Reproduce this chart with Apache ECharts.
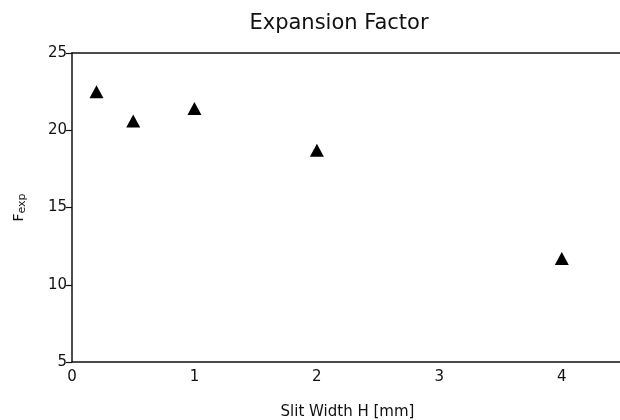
<!DOCTYPE html>
<html>
<head>
<meta charset="utf-8">
<script src="https://cdn.jsdelivr.net/npm/echarts@6/dist/echarts.min.js"></script>
<style>
  html, body { margin: 0; padding: 0; background: #fff; }
  #chart { width: 620px; height: 420px; }
</style>
</head>
<body>
<div id="chart"></div>
<script>
// slit width H [mm] and measured expansion factor
var slitWidth = [0.2, 0.5, 1.0, 2.0, 4.0];
var fExp = [22.5, 20.6, 21.4, 18.7, 11.7];
var xTicks = [0, 1, 2, 3, 4];
var yTicks = [5, 10, 15, 20, 25];

var points = slitWidth.map(function (x, i) { return [x, fExp[i]]; });
var font = 'DejaVu Sans';
var ink = '#111';

var myChart = echarts.init(document.getElementById('chart'));
var option = {
    backgroundColor: '#fff',
    animation: false,
    title: {
        text: 'Expansion Factor',
        left: 334,
        textAlign: 'center',
        top: 8,
        textStyle: { fontFamily: font, fontSize: 21, fontWeight: 'normal', color: ink }
    },
    grid: {
        left: 72,
        top: 53,
        width: 551,
        height: 309,
        outerBoundsMode: 'none',
        containLabel: false
    },
    xAxis: [{
        type: 'value',
        min: 0,
        max: 4.5,
        interval: 1,
        name: 'Slit Width H [mm]',
        nameLocation: 'middle',
        nameGap: 43,
        nameTextStyle: { fontFamily: font, fontSize: 15, color: ink },
        axisLine: { show: true, lineStyle: { color: ink, width: 1.5 } },
        axisTick: { show: false },
        axisLabel: {
            fontFamily: font, fontSize: 15, color: ink, margin: 8,
            showMaxLabel: false,
            formatter: function (v) { return xTicks.indexOf(v) >= 0 ? String(v) : ''; }
        },
        splitLine: { show: false }
    }, {
        // top frame line only
        type: 'value',
        position: 'top',
        min: 0,
        max: 4.5,
        axisLine: { show: true, lineStyle: { color: ink, width: 1.5 } },
        axisTick: { show: false },
        axisLabel: { show: false },
        splitLine: { show: false }
    }],
    yAxis: {
        type: 'value',
        min: 5,
        max: 25,
        interval: 5,
        name: '{a|F}{b|exp}',
        nameLocation: 'middle',
        nameRotate: 90,
        nameGap: 44,
        nameTextStyle: {
            rich: {
                a: { fontFamily: font, fontSize: 14, color: ink },
                b: { fontFamily: font, fontSize: 11, color: ink, padding: [7, 0, 0, 0] }
            }
        },
        axisLine: { show: true, lineStyle: { color: ink, width: 1.5 } },
        axisTick: { show: true, inside: false, length: 6, lineStyle: { color: ink, width: 1.2 } },
        axisLabel: {
            fontFamily: font, fontSize: 15, color: ink, margin: 5,
            formatter: function (v) { return yTicks.indexOf(v) >= 0 ? String(v) : ''; }
        },
        splitLine: { show: false }
    },
    series: [{
        type: 'scatter',
        data: points,
        symbol: 'triangle',
        symbolSize: [14, 13],
        itemStyle: { color: '#000', opacity: 1 }
    }]
};
myChart.setOption(option);
</script>
</body>
</html>
